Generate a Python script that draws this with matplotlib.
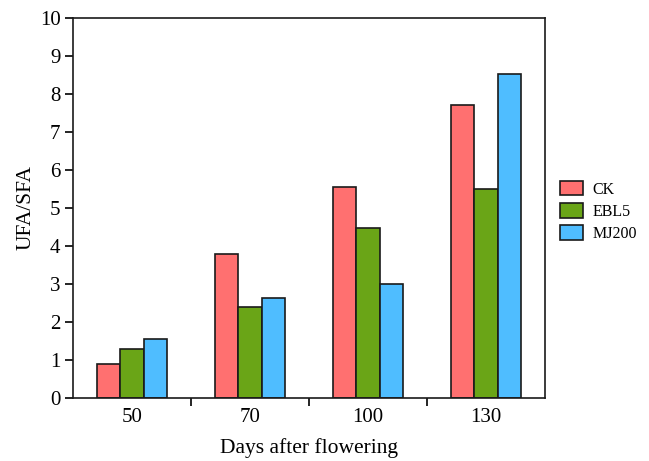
import matplotlib
matplotlib.use("Agg")
import matplotlib.pyplot as plt
import numpy as np

categories = ["50", "70", "100", "130"]
series_names = ["CK", "EBL5", "MJ200"]
ck = [0.90, 3.78, 5.56, 7.71]
ebl5 = [1.30, 2.40, 4.48, 5.51]
mj200 = [1.54, 2.63, 3.00, 8.53]
colors = ["#FF7070", "#6AA517", "#4FBDFF"]

plt.rcParams['font.family'] = ['Liberation Serif', 'DejaVu Serif']

fig = plt.figure(figsize=(6.49, 4.61), dpi=100)
ax = fig.add_axes([0.1125, 0.1367, 0.7273, 0.8243])

x = np.arange(len(categories))
w = 0.2
for i, (vals, name, c) in enumerate(zip([ck, ebl5, mj200], series_names, colors)):
    ax.bar(x + (i - 1) * w, vals, width=w, color=c, edgecolor="#1a1a1a",
           linewidth=1.2, label=name)

ax.set_xlim(-0.5, 3.5)
ax.set_ylim(0, 10)
ax.set_yticks(range(0, 11))
ax.set_xticks(x)
ax.set_xticklabels(categories)
ax.set_xticks(np.arange(0.5, 3.0, 1.0), minor=True)
ax.tick_params(axis='x', which='major', length=0, labelsize=15, pad=7)
ax.tick_params(axis='x', which='minor', length=6, width=1.2, direction='out')
ax.tick_params(axis='y', length=6, width=1.2, direction='out', labelsize=15, pad=3)
for s in ax.spines.values():
    s.set_linewidth(1.2)
    s.set_color("#1a1a1a")

ax.set_ylabel("UFA/SFA", fontsize=15.5, labelpad=3)
ax.set_xlabel("Days after flowering", fontsize=15.5, labelpad=8)

fig.legend(loc="center left", bbox_to_anchor=(0.841, 0.541), frameon=False,
           fontsize=11.5, handlelength=1.4, handleheight=1.0,
           labelspacing=0.35, handletextpad=0.6)

fig.savefig("out.png", dpi=100)
